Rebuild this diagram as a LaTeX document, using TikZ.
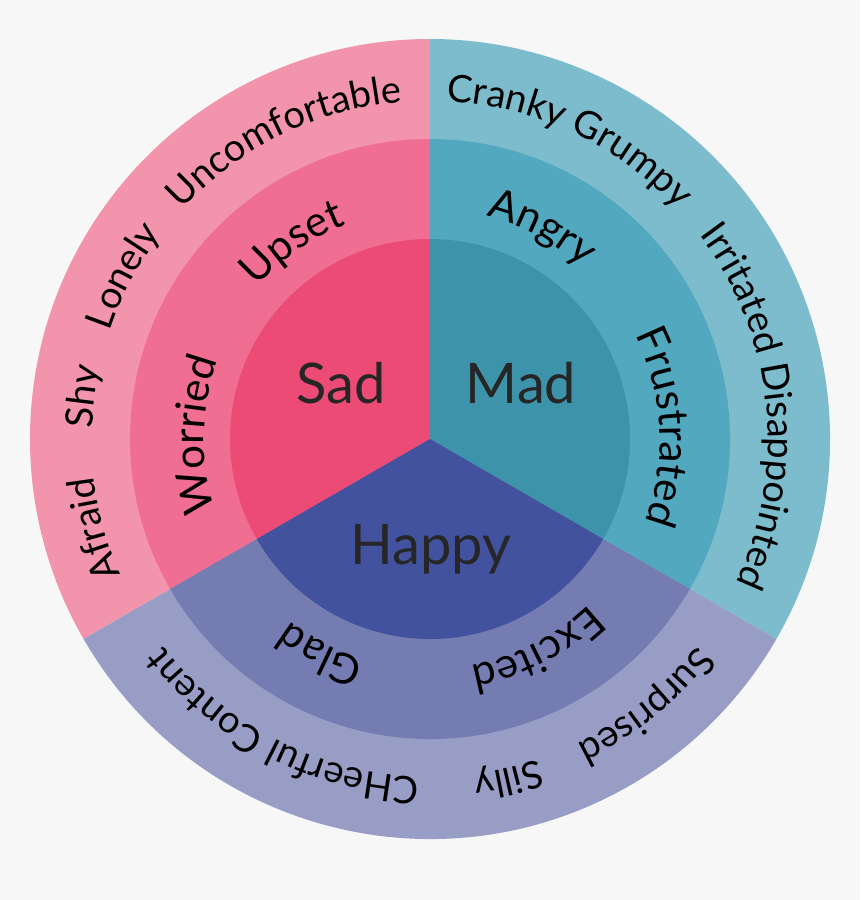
\documentclass[tikz,border=0pt]{standalone}
\usepackage{fontspec}
\setmainfont{Lato}
\usetikzlibrary{decorations.text}

\definecolor{backdrop}{HTML}{F7F7F7}
\definecolor{sadcore}{HTML}{EB4B75}
\definecolor{sadmid}{HTML}{F06E91}
\definecolor{sadout}{HTML}{F294AC}
\definecolor{madcore}{HTML}{3D93AA}
\definecolor{madmid}{HTML}{51A8BF}
\definecolor{madout}{HTML}{7DBCCD}
\definecolor{happycore}{HTML}{43529E}
\definecolor{happymid}{HTML}{757CB2}
\definecolor{happyout}{HTML}{989DC5}

\newcommand\corefont{\fontsize{56}{60}\selectfont}
\newcommand\midfont{\fontsize{42}{46}\selectfont}
\newcommand\rimfont{\fontsize{38}{42}\selectfont}

\begin{document}
\begin{tikzpicture}[
 x=1pt, y=1pt,
 core/.style={font=\corefont, text=black!85, anchor=base},
 midword/.style={decorate, decoration={text along path, text align=center, text={|\midfont|#1}}},
 rimword/.style={decorate, decoration={text along path, text align=center, text={|\rimfont|#1}}}
]

\fill[backdrop] (-430,-461) rectangle (430,439);
\useasboundingbox (-430,-461) rectangle (430,439);

% outer ring
\fill[sadout] (0,0) -- (90:400) arc[start angle=90, end angle=210, radius=400] -- cycle;
\fill[madout] (0,0) -- (-30:400) arc[start angle=-30, end angle=90, radius=400] -- cycle;
\fill[happyout] (0,0) -- (210:400) arc[start angle=210, end angle=330, radius=400] -- cycle;

% middle ring
\fill[sadmid] (0,0) -- (90:300) arc[start angle=90, end angle=210, radius=300] -- cycle;
\fill[madmid] (0,0) -- (-30:300) arc[start angle=-30, end angle=90, radius=300] -- cycle;
\fill[happymid] (0,0) -- (210:300) arc[start angle=210, end angle=330, radius=300] -- cycle;

% core
\fill[sadcore] (0,0) -- (90:200) arc[start angle=90, end angle=210, radius=200] -- cycle;
\fill[madcore] (0,0) -- (-30:200) arc[start angle=-30, end angle=90, radius=200] -- cycle;
\fill[happycore] (0,0) -- (210:200) arc[start angle=210, end angle=330, radius=200] -- cycle;

\node[core] (sad) at (-89,36) {Sad};
\node[core] (mad) at (91,36) {Mad};
\node[core] (happy) at (1,-125) {Happy};

% middle words
\path[midword={Upset}] (175:230) arc[start angle=175, end angle=75, radius=230];
\path[midword={Worried}] (229:226) arc[start angle=229, end angle=129, radius=226];
\path[midword={Angry}] (112:230) arc[start angle=112, end angle=12, radius=230];
\path[midword={Frustrated}] (53:230) arc[start angle=53, end angle=-47, radius=230];
\path[midword={Glad}] (-67:230) arc[start angle=-67, end angle=-167, radius=230];
\path[midword={Excited}] (-13:230) arc[start angle=-13, end angle=-113, radius=230];

% outer words
\path[rimword={Uncomfortable}] (166:338) arc[start angle=166, end angle=66, radius=338];
\path[rimword={Lonely}] (202:338) arc[start angle=202, end angle=102, radius=338];
\path[rimword={Shy}] (223:338) arc[start angle=223, end angle=123, radius=338];
\path[rimword={Afraid}] (245:338) arc[start angle=245, end angle=145, radius=338];
\path[rimword={Cranky Grumpy}] (115:338) arc[start angle=115, end angle=15, radius=338];
\path[rimword={Irritated Disappointed}] (56:338) arc[start angle=56, end angle=-44, radius=338];
\path[rimword={Surprised}] (-1:338) arc[start angle=-1, end angle=-101, radius=338];
\path[rimword={Silly}] (-27:338) arc[start angle=-27, end angle=-127, radius=338];
\path[rimword={CHeerful Content}] (-67:338) arc[start angle=-67, end angle=-167, radius=338];
\end{tikzpicture}
\end{document}
